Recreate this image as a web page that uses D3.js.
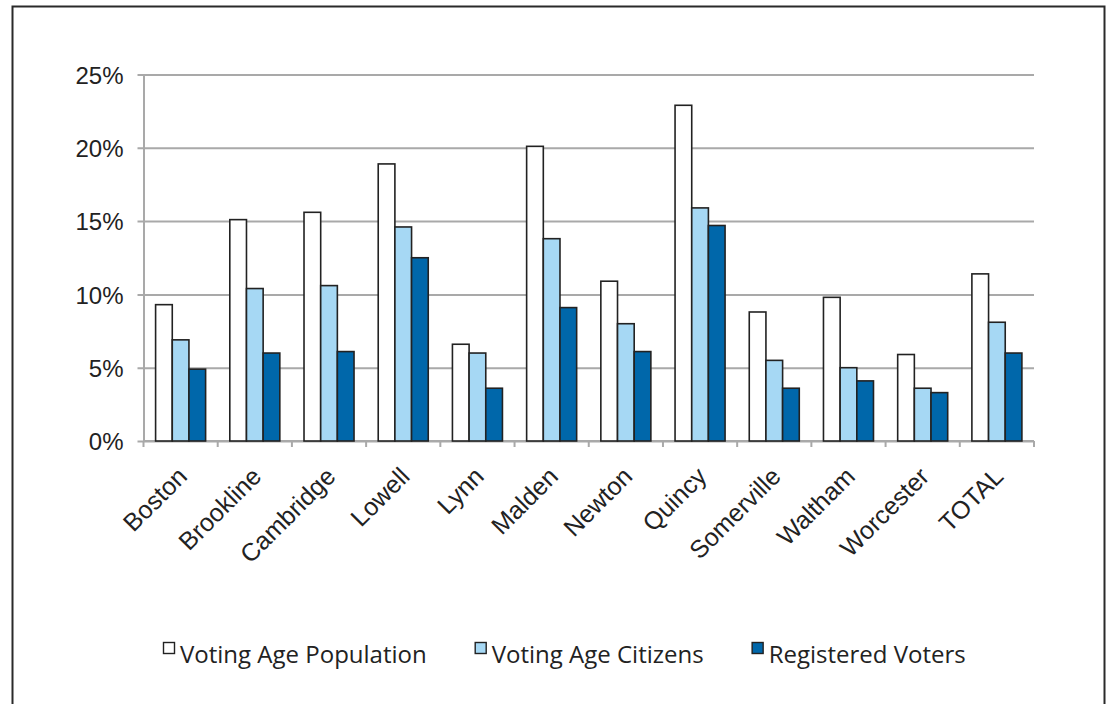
<!DOCTYPE html>
<html>
<head>
<meta charset="utf-8">
<script src="https://cdn.jsdelivr.net/npm/d3@7"></script>
<style>
  html, body { margin: 0; padding: 0; background: #fff; }
  svg { display: block; }
  .tick-label { font-family: "Liberation Sans", Arial, sans-serif; fill: #222; }
  .legend-label { font-family: "Open Sans", "Noto Sans", sans-serif; fill: #222; }
</style>
</head>
<body>
<svg id="chart" width="1108" height="704"></svg>
<script>
// Share of each city's population, by stage of the voting pipeline
const cities = ["Boston", "Brookline", "Cambridge", "Lowell", "Lynn", "Malden",
                "Newton", "Quincy", "Somerville", "Waltham", "Worcester", "TOTAL"];
const seriesNames = ["Voting Age Population", "Voting Age Citizens", "Registered Voters"];
const votingAgePopulation = [9.3, 15.1, 15.6, 18.9, 6.6, 20.1, 10.9, 22.9, 8.8, 9.8, 5.9, 11.4];
const votingAgeCitizens   = [6.9, 10.4, 10.6, 14.6, 6.0, 13.8, 8.0, 15.9, 5.5, 5.0, 3.6, 8.1];
const registeredVoters    = [4.9, 6.0, 6.1, 12.5, 3.6, 9.1, 6.1, 14.7, 3.6, 4.1, 3.3, 6.0];
const yTicks = [0, 5, 10, 15, 20, 25];
const seriesColors = ["#ffffff", "#a6d8f4", "#0067aa"];

(function () {
  const seriesValues = [votingAgePopulation, votingAgeCitizens, registeredVoters];
  const rows = cities.map((c, i) => ({
    city: c,
    values: seriesNames.map((s, j) => ({ key: s, idx: j, value: seriesValues[j][i] }))
  }));

  const svg = d3.select("#chart");

  // outer frame
  svg.append("rect")
    .attr("x", 12.5).attr("y", 6.5)
    .attr("width", 1092).attr("height", 720)
    .attr("fill", "none").attr("stroke", "#2a2a2a").attr("stroke-width", 2);

  const plotLeft = 143.5, plotRight = 1034, plotTop = 74.5, plotBottom = 441;

  const x0 = d3.scaleBand().domain(cities).range([plotLeft, plotRight])
    .paddingInner(0.326).paddingOuter(0.163);
  const x1 = d3.scaleBand().domain(seriesNames).range([0, x0.bandwidth()]);
  const y = d3.scaleLinear().domain([0, 25]).range([plotBottom, plotTop]);

  // horizontal gridlines with left tick marks
  const yAxis = d3.axisLeft(y).tickValues(yTicks)
    .tickSize(-(plotRight - plotLeft)).tickSizeOuter(0).tickPadding(14)
    .tickFormat(d => d + "%");
  const gy = svg.append("g").attr("transform", `translate(${plotLeft},0)`).call(yAxis);
  gy.select(".domain").attr("stroke", "#a9a9a9").attr("stroke-width", 2);
  gy.selectAll(".tick line").attr("stroke", "#a9a9a9").attr("stroke-width", 2)
    .attr("x1", -6);
  gy.selectAll(".tick text").attr("class", "tick-label")
    .attr("font-size", 24).attr("dy", "0.36em").attr("x", -20);

  // category axis: ticks at group boundaries
  const boundaries = cities.map(c => x0(c) - x0.step() * x0.paddingInner() / 2);
  boundaries.push(plotRight);
  const gx = svg.append("g");
  gx.append("line").attr("x1", plotLeft).attr("x2", plotRight)
    .attr("y1", plotBottom).attr("y2", plotBottom)
    .attr("stroke", "#a9a9a9").attr("stroke-width", 2);
  gx.selectAll("line.tk").data(boundaries).join("line").attr("class", "tk")
    .attr("x1", d => d).attr("x2", d => d).attr("y1", plotBottom).attr("y2", plotBottom + 6)
    .attr("stroke", "#a9a9a9").attr("stroke-width", 2);

  gx.selectAll("text").data(cities).join("text")
    .attr("class", "tick-label")
    .attr("font-size", 25)
    .attr("text-anchor", "end")
    .attr("transform", d => `translate(${x0(d) + x0.bandwidth() / 2 + 8},${plotBottom + 37}) rotate(-45)`)
    .text(d => d);

  // bars
  const groups = svg.append("g").selectAll("g").data(rows).join("g")
    .attr("transform", d => `translate(${x0(d.city)},0)`);
  groups.selectAll("rect").data(d => d.values).join("rect")
    .attr("x", d => x1(d.key))
    .attr("y", d => y(d.value))
    .attr("width", x1.bandwidth())
    .attr("height", d => y(0) - y(d.value))
    .attr("fill", d => seriesColors[d.idx])
    .attr("stroke", "#222")
    .attr("stroke-width", 1.6);

  // legend
  const legend = svg.append("g");
  let lx = 163;
  seriesNames.forEach((s, j) => {
    legend.append("rect").attr("x", lx + 0.5).attr("y", 642.5).attr("width", 11).attr("height", 11)
      .attr("fill", seriesColors[j]).attr("stroke", "#222").attr("stroke-width", 1.4);
    const t = legend.append("text").attr("class", "legend-label")
      .attr("x", lx + 17).attr("y", 663).attr("font-size", 24).text(s);
    lx += 17 + t.node().getComputedTextLength() + 48;
  });
})();
</script>
</body>
</html>
